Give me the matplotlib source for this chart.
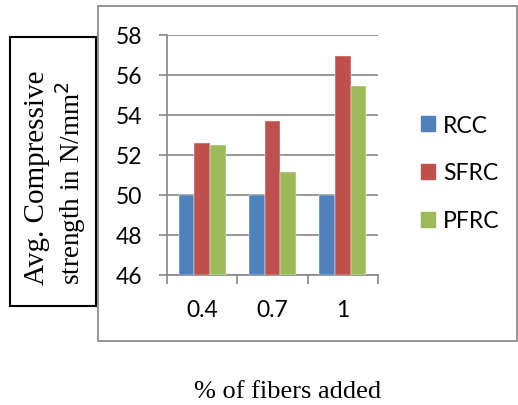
import matplotlib
matplotlib.use("Agg")
import matplotlib.pyplot as plt
import numpy as np
from matplotlib.patches import Rectangle, Patch

# data
fibers = ["0.4", "0.7", "1"]
rcc = [50.0, 50.0, 50.0]
sfrc = [52.6, 53.7, 56.95]
pfrc = [52.5, 51.15, 55.45]
series = {"RCC": rcc, "SFRC": sfrc, "PFRC": pfrc}
colors = {"RCC": "#4F81BD", "SFRC": "#C0504D", "PFRC": "#9BBB59"}

W, H = 518, 406
fig = plt.figure(figsize=(W / 100, H / 100), dpi=100)
ax = fig.add_axes([167 / W, 1 - 276 / H, (378 - 167) / W, (276 - 36) / H])

sans = ["Lato", "DejaVu Sans"]
serif = ["Liberation Serif", "DejaVu Serif"]
grid_c = "#868686"
fs = 16.5

x = np.arange(len(fibers))
bw = 0.222
for i, (name, vals) in enumerate(series.items()):
    ax.bar(x + (i - 1) * bw, np.array(vals) - 46, bw, bottom=46,
           color=colors[name], edgecolor="white", linewidth=0.3, zorder=3)

ax.set_ylim(46, 58)
ax.set_xlim(-0.5, 2.5)
ax.set_yticks(np.arange(46, 59, 2))
ax.set_yticklabels([str(v) for v in range(46, 59, 2)], family=sans, fontsize=fs)
ax.set_xticks(x)
ax.set_xticklabels(fibers, family=sans, fontsize=fs)
ax.set_xticks([-0.5, 0.5, 1.5, 2.5], minor=True)
ax.tick_params(axis="x", which="major", length=0, pad=17)
ax.tick_params(axis="x", which="minor", length=6.5, width=1.2, color=grid_c, direction="out")
ax.tick_params(axis="y", length=5.8, width=1.2, color=grid_c, pad=12)
ax.yaxis.grid(True, color=grid_c, linewidth=1.2, zorder=0)
for s in ["top", "right"]:
    ax.spines[s].set_visible(False)
for s in ["left", "bottom"]:
    ax.spines[s].set_color(grid_c)
    ax.spines[s].set_linewidth(1.2)
ax.set_axisbelow(True)

handles = [Patch(color=colors[n], label=n) for n in series]
fig.legend(handles=handles, loc="center left", bbox_to_anchor=(421 / W, 1 - 174 / H),
           frameon=False, prop={"family": sans, "size": fs},
           handlelength=0.62, handleheight=0.62, handletextpad=0.35,
           labelspacing=1.17, borderpad=0, borderaxespad=0)

# outer chart frame and y-label box
fig.patches.append(Rectangle((98 / W, 1 - 342 / H), (W - 99) / W, (342 - 7) / H,
                             transform=fig.transFigure, fill=False,
                             edgecolor="#8c8c8c", linewidth=1.3))
fig.patches.append(Rectangle((10 / W, 1 - 307 / H), 86 / W, (307 - 38) / H,
                             transform=fig.transFigure, fill=False,
                             edgecolor="black", linewidth=1.5))

fig.text(37 / W, 1 - 285 / H, "Avg. Compressive", rotation=90, family=serif,
         fontsize=21, ha="center", va="bottom")
fig.text(71 / W, 1 - 285 / H, "strength in N/mm$^2$", rotation=90, family=serif,
         fontsize=19.5, ha="center", va="bottom")
fig.text(288 / W, 1 - 392 / H, "% of fibers added", family=serif,
         fontsize=19, ha="center", va="center")

fig.savefig("out.png", dpi=100)
